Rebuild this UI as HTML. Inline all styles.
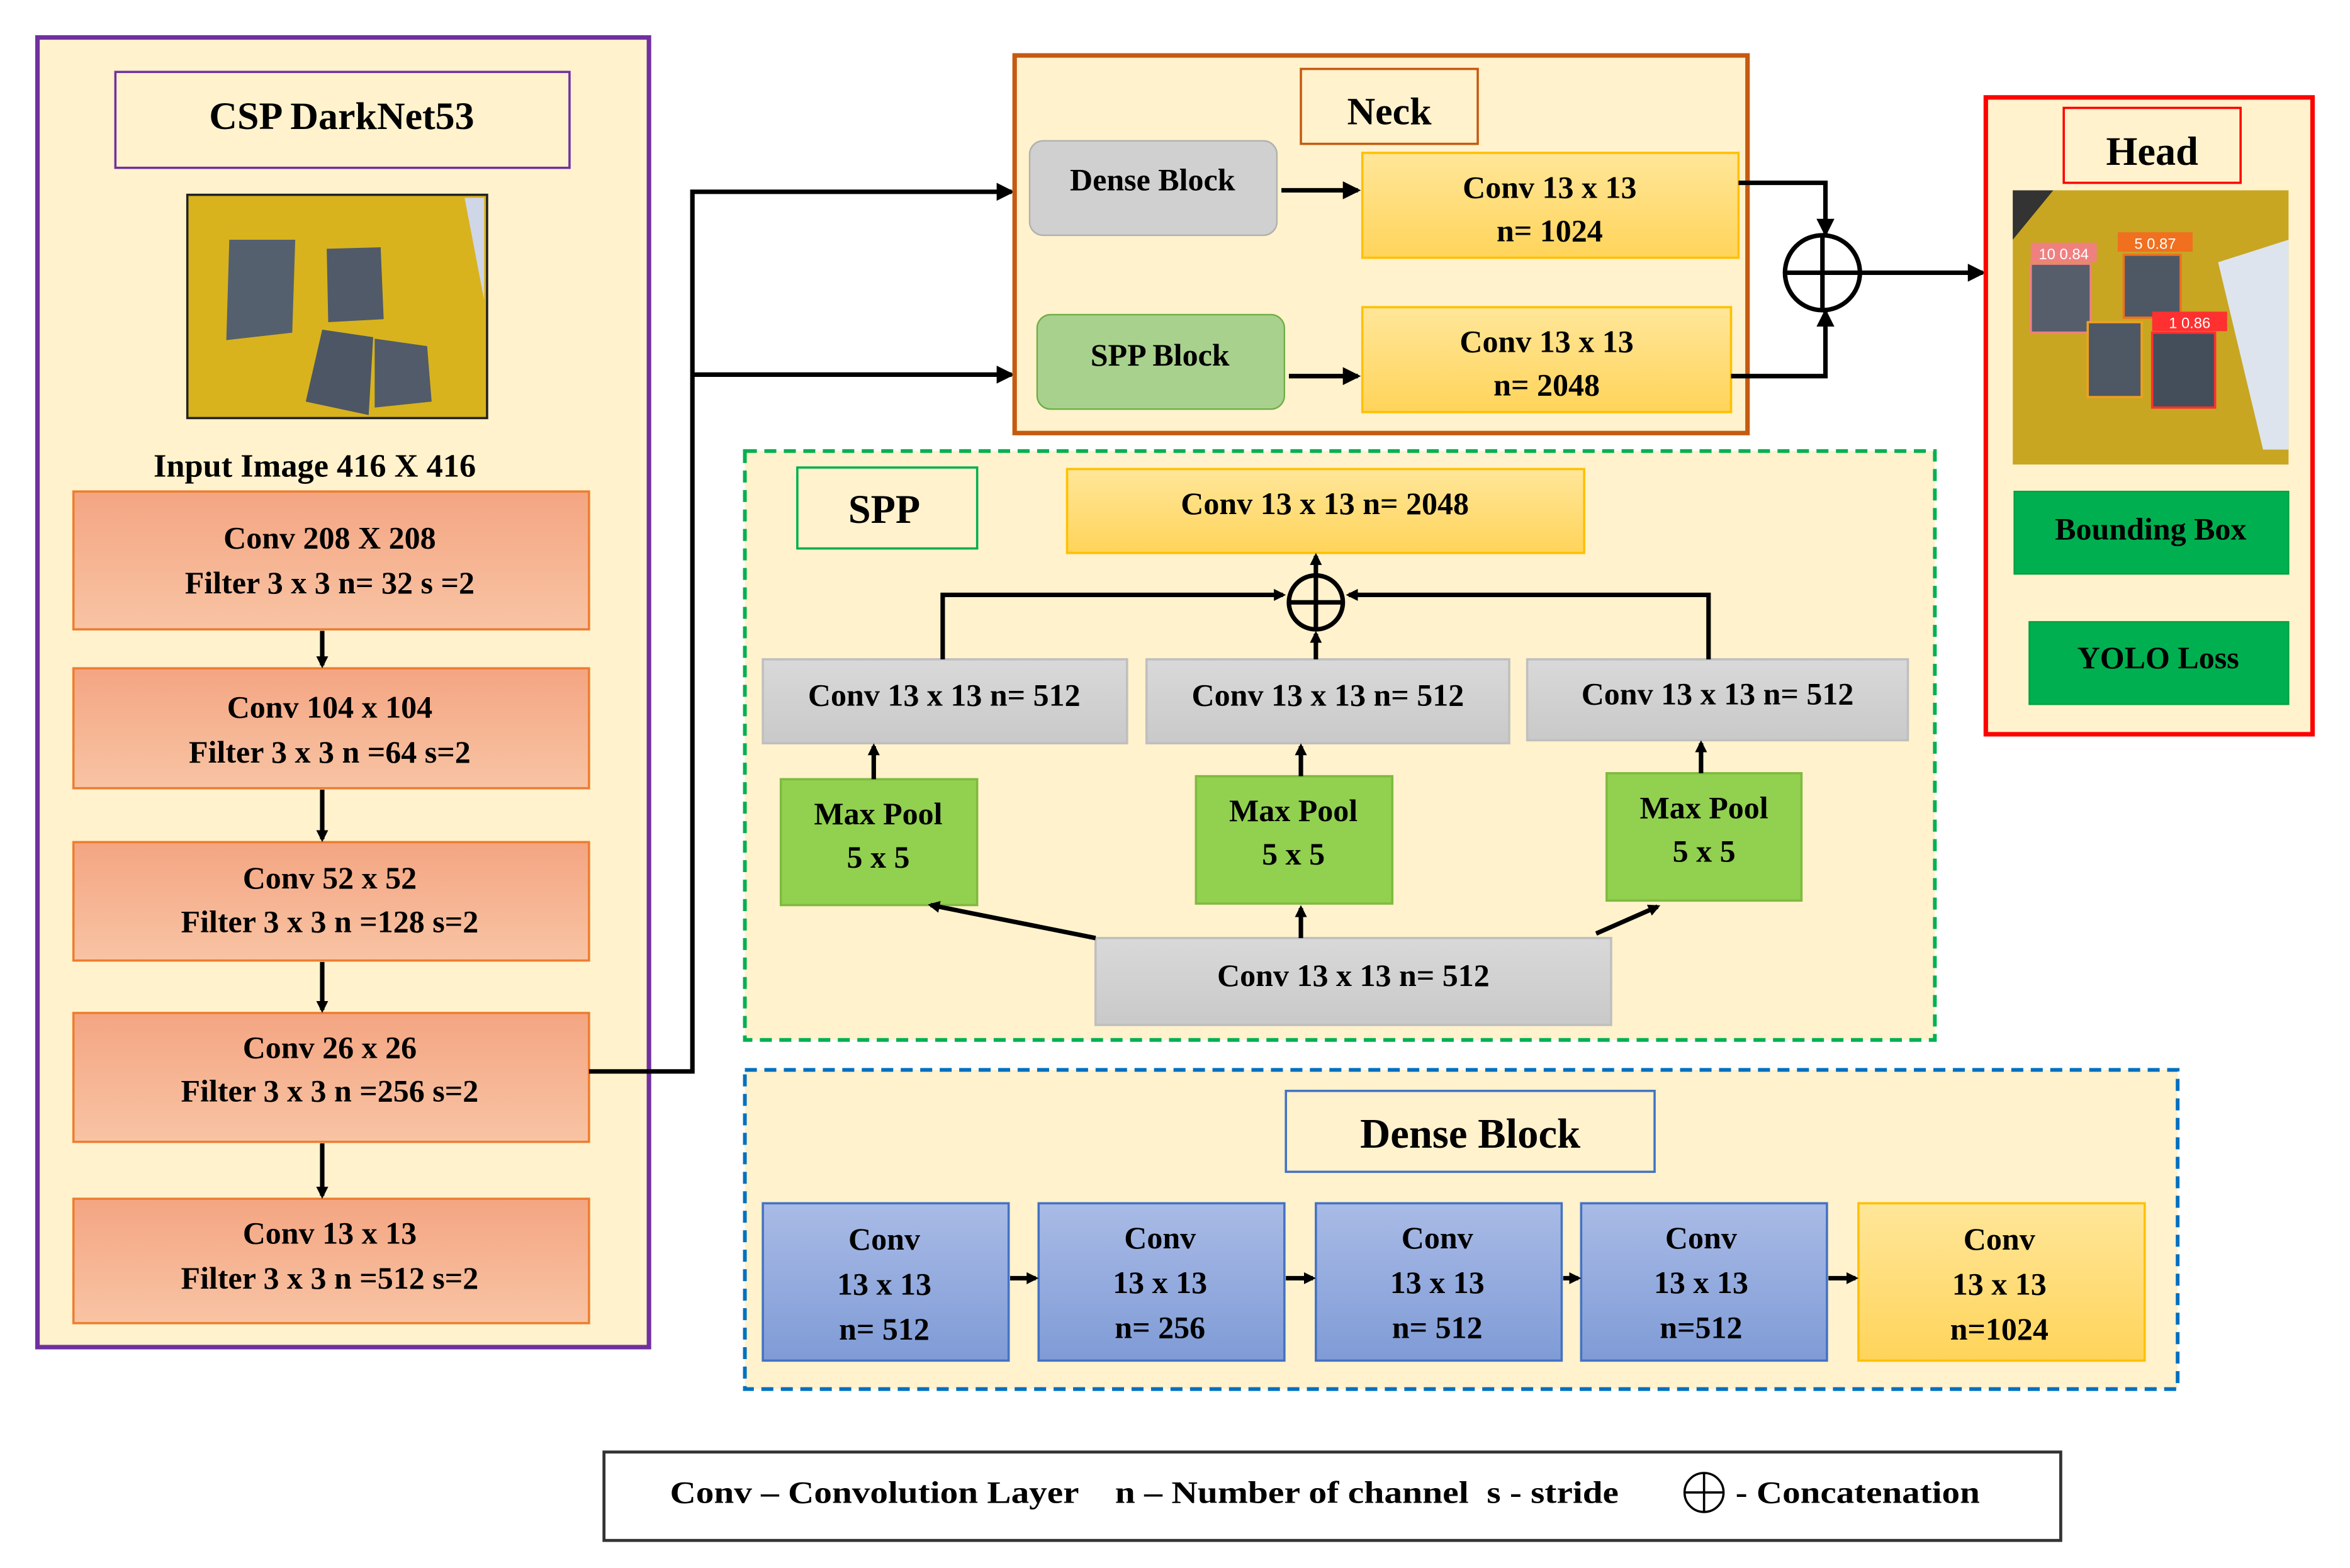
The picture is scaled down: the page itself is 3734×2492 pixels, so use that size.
<!DOCTYPE html>
<html><head><meta charset="utf-8"><style>
html,body{margin:0;padding:0;background:#fff;width:3734px;height:2492px;overflow:hidden}
svg{display:block}
text{font-family:"Liberation Serif",serif;font-weight:bold;fill:#000;text-anchor:middle}
</style></head><body>
<svg width="3734" height="2492" viewBox="0 0 1568 1046.4" preserveAspectRatio="none" xmlns="http://www.w3.org/2000/svg">
<defs>
<linearGradient id="og" x1="0" y1="0" x2="0" y2="1"><stop offset="0" stop-color="#f4a582"/><stop offset="1" stop-color="#f8c4a4"/></linearGradient>
<linearGradient id="yg" x1="0" y1="0" x2="0" y2="1"><stop offset="0" stop-color="#ffe699"/><stop offset="1" stop-color="#ffd45a"/></linearGradient>
<linearGradient id="gg" x1="0" y1="0" x2="0" y2="1"><stop offset="0" stop-color="#d9d9d9"/><stop offset="1" stop-color="#c9c9c9"/></linearGradient>
<linearGradient id="bg" x1="0" y1="0" x2="0" y2="1"><stop offset="0" stop-color="#a9bbe6"/><stop offset="1" stop-color="#7f9bd6"/></linearGradient>
<marker id="ar" markerWidth="8" markerHeight="8" refX="6" refY="4" orient="auto" markerUnits="userSpaceOnUse"><path d="M0,0 L8,4 L0,8 Z" fill="#000"/></marker>
<marker id="am" markerWidth="12" markerHeight="12" refX="10" refY="6" orient="auto" markerUnits="userSpaceOnUse"><path d="M0,0 L12,6 L0,12 Z" fill="#000"/></marker>
</defs>

<!-- Backbone -->
<rect x="25" y="25" width="408" height="874" fill="#fff2cc" stroke="#7030a0" stroke-width="3"/>
<rect x="77" y="48" width="303" height="64" fill="#fff2cc" stroke="#7030a0" stroke-width="1.5"/>
<text x="228" y="86" font-size="26">CSP DarkNet53</text>
<rect x="125" y="130" width="200" height="149" fill="#d8b31e" stroke="#222" stroke-width="1.5"/>
<polygon points="310,132 323,132 323,200" fill="#cfd6e8"/>
<polygon points="153,160 197,160 195,222 151,227" fill="#55606e"/>
<polygon points="218,166 254,165 256,213 219,215" fill="#505a68"/>
<polygon points="215,220 249,225 246,277 204,268" fill="#4c5664"/>
<polygon points="250,226 285,231 288,268 250,272" fill="#515b69"/>
<text x="210" y="318" font-size="22">Input Image 416 X 416</text>
<g stroke="#ed7d31" stroke-width="1.5" fill="url(#og)">
<rect x="49" y="328" width="344" height="92"/>
<rect x="49" y="446" width="344" height="80"/>
<rect x="49" y="562" width="344" height="79"/>
<rect x="49" y="676" width="344" height="86"/>
<rect x="49" y="800" width="344" height="83"/>
</g>
<g font-size="21">
<text x="220" y="366">Conv 208 X 208</text><text x="220" y="396">Filter 3 x 3 n= 32 s =2</text>
<text x="220" y="479">Conv 104 x 104</text><text x="220" y="509">Filter 3 x 3 n =64 s=2</text>
<text x="220" y="593">Conv 52 x 52</text><text x="220" y="622">Filter 3 x 3 n =128 s=2</text>
<text x="220" y="706">Conv 26 x 26</text><text x="220" y="735">Filter 3 x 3 n =256 s=2</text>
<text x="220" y="830">Conv 13 x 13</text><text x="220" y="860">Filter 3 x 3 n =512 s=2</text>
</g>
<g stroke="#000" stroke-width="3" marker-end="url(#ar)">
<line x1="215" y1="421" x2="215" y2="444"/>
<line x1="215" y1="527" x2="215" y2="560"/>
<line x1="215" y1="642" x2="215" y2="674"/>
<line x1="215" y1="763" x2="215" y2="798"/>
</g>
<polyline points="393,715 462,715 462,128 675,128" fill="none" stroke="#000" stroke-width="3" marker-end="url(#am)"/>
<line x1="462" y1="250" x2="675" y2="250" stroke="#000" stroke-width="3" marker-end="url(#am)"/>

<!-- Neck -->
<rect x="677" y="37" width="489" height="252" fill="#fff2cc" stroke="#c55a11" stroke-width="3"/>
<rect x="868" y="46" width="118" height="50" fill="#fff2cc" stroke="#c55a11" stroke-width="1.5"/>
<text x="927" y="83" font-size="26">Neck</text>
<rect x="687" y="94" width="165" height="63" rx="9" fill="#d0d0d0" stroke="#b0b0b0"/>
<text x="769" y="127" font-size="21">Dense Block</text>
<rect x="692" y="210" width="165" height="63" rx="9" fill="#a9d18e" stroke="#70ad47"/>
<text x="774" y="244" font-size="21">SPP Block</text>
<rect x="909" y="102" width="251" height="70" fill="url(#yg)" stroke="#ffc000" stroke-width="1.5"/>
<text x="1034" y="132" font-size="21">Conv 13 x 13</text><text x="1034" y="161" font-size="21">n= 1024</text>
<rect x="909" y="205" width="246" height="70" fill="url(#yg)" stroke="#ffc000" stroke-width="1.5"/>
<text x="1032" y="235" font-size="21">Conv 13 x 13</text><text x="1032" y="264" font-size="21">n= 2048</text>
<g stroke="#000" stroke-width="3" fill="none">
<line x1="855" y1="127" x2="906" y2="127" marker-end="url(#am)"/>
<line x1="860" y1="251" x2="906" y2="251" marker-end="url(#am)"/>
<polyline points="1160,122 1218,122 1218,156" marker-end="url(#am)"/>
<polyline points="1155,251 1218,251 1218,208" marker-end="url(#am)"/>
<circle cx="1216" cy="182" r="25"/>
<line x1="1191" y1="182" x2="1241" y2="182"/><line x1="1216" y1="157" x2="1216" y2="207"/>
<line x1="1241" y1="182" x2="1323" y2="182" marker-end="url(#am)"/>
</g>

<!-- Head -->
<rect x="1325" y="65" width="218" height="425" fill="#fff2cc" stroke="#ff0000" stroke-width="3"/>
<rect x="1377" y="72" width="118" height="50" fill="#fff2cc" stroke="#ff0000" stroke-width="1.5"/>
<text x="1436" y="110" font-size="27">Head</text>
<rect x="1343" y="127" width="184" height="183" fill="#c8a622"/>
<polygon points="1343,127 1370,127 1343,160" fill="#333"/>
<polygon points="1480,175 1527,160 1527,300 1510,300" fill="#dde4ee"/>
<rect x="1355" y="176" width="40" height="46" fill="#555e6a" stroke="#f08080" stroke-width="1.5"/>
<rect x="1355" y="162" width="44" height="13" fill="#f08080"/><text x="1377" y="173" font-size="10" style="font-family:'Liberation Sans',sans-serif;font-weight:normal;fill:#fff">10 0.84</text>
<rect x="1417" y="170" width="38" height="42" fill="#4e5865" stroke="#f07020" stroke-width="1.5"/>
<rect x="1413" y="155" width="50" height="13" fill="#f07020"/><text x="1438" y="166" font-size="10" style="font-family:'Liberation Sans',sans-serif;font-weight:normal;fill:#fff">5 0.87</text>
<rect x="1393" y="215" width="36" height="50" fill="#4e5865" stroke="#f0a020" stroke-width="1.5"/>
<rect x="1436" y="222" width="42" height="50" fill="#444e5a" stroke="#ff3030" stroke-width="1.5"/>
<rect x="1436" y="208" width="50" height="13" fill="#ff3030"/><text x="1461" y="219" font-size="10" style="font-family:'Liberation Sans',sans-serif;font-weight:normal;fill:#fff">1 0.86</text>
<rect x="1344" y="328" width="183" height="55" fill="#00b050" stroke="#00a040"/>
<text x="1435" y="360" font-size="21">Bounding Box</text>
<rect x="1354" y="415" width="173" height="55" fill="#00b050" stroke="#00a040"/>
<text x="1440" y="446" font-size="21">YOLO Loss</text>

<!-- SPP -->
<rect x="497" y="301" width="794" height="393" fill="#fff2cc" stroke="#00b050" stroke-width="2.5" stroke-dasharray="8,5"/>
<rect x="532" y="312" width="120" height="54" fill="#fff2cc" stroke="#00b050" stroke-width="1.5"/>
<text x="590" y="349" font-size="27">SPP</text>
<rect x="712" y="313" width="345" height="56" fill="url(#yg)" stroke="#ffc000" stroke-width="1.5"/>
<text x="884" y="343" font-size="21">Conv 13 x 13 n= 2048</text>
<g fill="url(#gg)" stroke="#bfbfbf" stroke-width="1.5">
<rect x="509" y="440" width="243" height="56"/>
<rect x="765" y="440" width="242" height="56"/>
<rect x="1019" y="440" width="254" height="54"/>
<rect x="731" y="626" width="344" height="58"/>
</g>
<g font-size="21">
<text x="630" y="471">Conv 13 x 13 n= 512</text>
<text x="886" y="471">Conv 13 x 13 n= 512</text>
<text x="1146" y="470">Conv 13 x 13 n= 512</text>
<text x="903" y="658">Conv 13 x 13 n= 512</text>
</g>
<g fill="#92d050" stroke="#7fba40" stroke-width="1.5">
<rect x="521" y="520" width="131" height="84"/>
<rect x="798" y="518" width="131" height="85"/>
<rect x="1072" y="516" width="130" height="85"/>
</g>
<g font-size="21">
<text x="586" y="550">Max Pool</text><text x="586" y="579">5 x 5</text>
<text x="863" y="548">Max Pool</text><text x="863" y="577">5 x 5</text>
<text x="1137" y="546">Max Pool</text><text x="1137" y="575">5 x 5</text>
</g>
<g stroke="#000" stroke-width="3" fill="none">
<polyline points="629,440 629,397 856,397" marker-end="url(#ar)"/>
<polyline points="1140,440 1140,397 900,397" marker-end="url(#ar)"/>
<line x1="878" y1="440" x2="878" y2="423" marker-end="url(#ar)"/>
<circle cx="878" cy="402" r="18"/>
<line x1="860" y1="402" x2="896" y2="402"/><line x1="878" y1="384" x2="878" y2="420"/>
<line x1="878" y1="384" x2="878" y2="371" marker-end="url(#ar)"/>
<line x1="583" y1="520" x2="583" y2="498" marker-end="url(#ar)"/>
<line x1="868" y1="518" x2="868" y2="498" marker-end="url(#ar)"/>
<line x1="1135" y1="516" x2="1135" y2="496" marker-end="url(#ar)"/>
<line x1="731" y1="626" x2="621" y2="604" marker-end="url(#ar)"/>
<line x1="868" y1="626" x2="868" y2="606" marker-end="url(#ar)"/>
<line x1="1065" y1="623" x2="1106" y2="605" marker-end="url(#ar)"/>
</g>

<!-- Dense Block -->
<rect x="497" y="714" width="956" height="213" fill="#fff2cc" stroke="#0070c0" stroke-width="2.5" stroke-dasharray="8,5"/>
<rect x="858" y="728" width="246" height="54" fill="#fff2cc" stroke="#4472c4" stroke-width="1.5"/>
<text x="981" y="766" font-size="28">Dense Block</text>
<g fill="url(#bg)" stroke="#4472c4" stroke-width="1.5">
<rect x="509" y="803" width="164" height="105"/>
<rect x="693" y="803" width="164" height="105"/>
<rect x="878" y="803" width="164" height="105"/>
<rect x="1055" y="803" width="164" height="105"/>
</g>
<rect x="1240" y="803" width="191" height="105" fill="url(#yg)" stroke="#ffc000" stroke-width="1.5"/>
<g font-size="21">
<text x="590" y="834">Conv</text><text x="590" y="864">13 x 13</text><text x="590" y="894">n= 512</text>
<text x="774" y="833">Conv</text><text x="774" y="863">13 x 13</text><text x="774" y="893">n= 256</text>
<text x="959" y="833">Conv</text><text x="959" y="863">13 x 13</text><text x="959" y="893">n= 512</text>
<text x="1135" y="833">Conv</text><text x="1135" y="863">13 x 13</text><text x="1135" y="893">n=512</text>
<text x="1334" y="834">Conv</text><text x="1334" y="864">13 x 13</text><text x="1334" y="894">n=1024</text>
</g>
<g stroke="#000" stroke-width="3" marker-end="url(#ar)">
<line x1="674" y1="853" x2="691" y2="853"/>
<line x1="858" y1="853" x2="876" y2="853"/>
<line x1="1043" y1="853" x2="1053" y2="853"/>
<line x1="1220" y1="853" x2="1238" y2="853"/>
</g>

<!-- Legend -->
<rect x="403" y="969" width="972" height="59" fill="#fff" stroke="#333" stroke-width="2"/>
<g font-size="21">
<text x="447" y="1003" style="text-anchor:start" textLength="273" lengthAdjust="spacingAndGlyphs">Conv – Convolution Layer</text>
<text x="744" y="1003" style="text-anchor:start" textLength="236" lengthAdjust="spacingAndGlyphs">n – Number of channel</text>
<text x="992" y="1003" style="text-anchor:start" textLength="88" lengthAdjust="spacingAndGlyphs">s - stride</text>
<text x="1158" y="1003" style="text-anchor:start" textLength="163" lengthAdjust="spacingAndGlyphs">- Concatenation</text>
</g>
<g stroke="#000" stroke-width="1.5" fill="none">
<circle cx="1137" cy="996" r="13"/><line x1="1124" y1="996" x2="1150" y2="996"/><line x1="1137" y1="983" x2="1137" y2="1009"/>
</g>
</svg>
</body></html>
